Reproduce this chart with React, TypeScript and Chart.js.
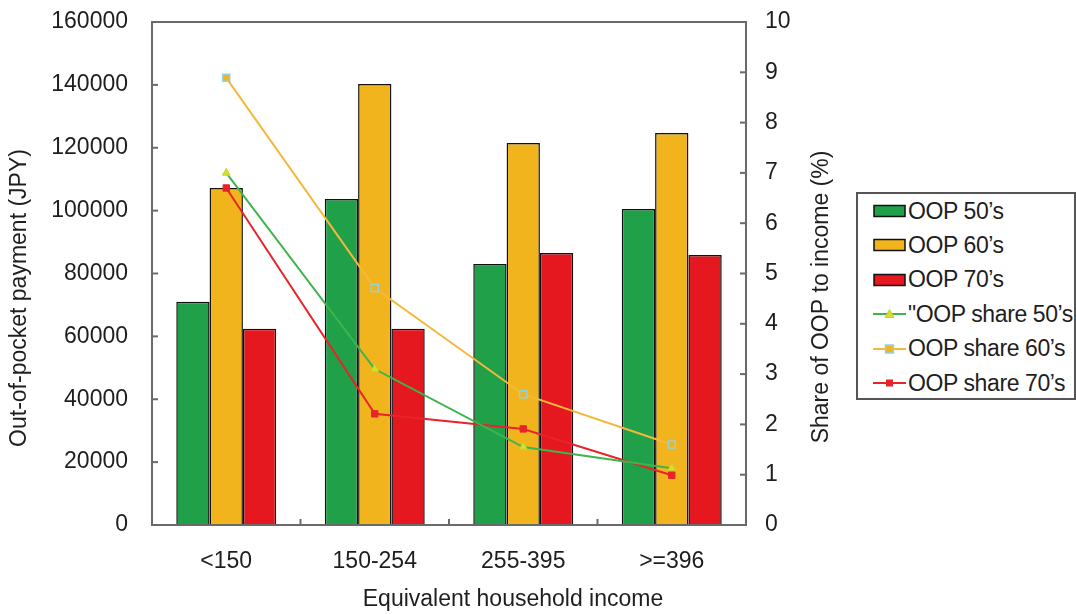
import React, { useEffect, useRef } from 'react';
import { Chart, registerables } from 'chart.js';

Chart.register(...registerables);

const categories = ['<150', '150-254', '255-395', '>=396'];
const oop50 = [71000, 103700, 83000, 100500];
const oop60 = [107200, 140300, 121500, 124700];
const oop70 = [62400, 62400, 86500, 85900];
const share50 = [7.0, 3.1, 1.55, 1.13];
const share60 = [8.89, 4.71, 2.6, 1.6];
const share70 = [6.7, 2.21, 1.91, 0.99];
const legendLabels = ['OOP 50’s', 'OOP 60’s', 'OOP 70’s', '"OOP share 50’s', 'OOP share 60’s', 'OOP share 70’s'];
const leftTitle = 'Out-of-pocket payment (JPY)';
const rightTitle = 'Share of OOP to income (%)';
const xTitle = 'Equivalent household income';

const FONT = '"Liberation Sans", Arial, Helvetica, sans-serif';
const TEXT = '#1e1e1e';
const GREEN = '#21A04A';
const YELLOW = '#F2B41C';
const RED = '#E5171F';
const LGREEN = '#3DB54A';
const LYELLOW = '#F5B83A';
const LRED = '#E8232A';

const framePlugin = {
  id: 'frame',
  afterDraw(chart: any) {
    const { ctx, chartArea: a, scales } = chart;
    ctx.save();
    ctx.strokeStyle = '#6a6a6a';
    ctx.lineWidth = 2;
    ctx.strokeRect(a.left, a.top, a.right - a.left, a.bottom - a.top);
    const line = (x1: number, y1: number, x2: number, y2: number) => {
      ctx.beginPath();
      ctx.moveTo(x1, y1);
      ctx.lineTo(x2, y2);
      ctx.stroke();
    };
    scales.y.ticks.forEach((t: any) => {
      const y = scales.y.getPixelForValue(t.value);
      line(a.left, y, a.left + 6, y);
    });
    scales.y1.ticks.forEach((t: any) => {
      const y = scales.y1.getPixelForValue(t.value);
      line(a.right - 6, y, a.right, y);
    });
    const n = categories.length;
    for (let i = 1; i < n; i++) {
      const x = a.left + (i * (a.right - a.left)) / n;
      line(x, a.bottom, x, a.bottom - 6);
    }
    ctx.fillStyle = TEXT;
    ctx.font = `23px ${FONT}`;
    ctx.textAlign = 'center';
    ctx.textBaseline = 'middle';
    ctx.save();
    ctx.translate(20, 298);
    ctx.rotate(-Math.PI / 2);
    ctx.fillText(leftTitle, 0, 0);
    ctx.restore();
    ctx.save();
    ctx.translate(822, 297);
    ctx.rotate(-Math.PI / 2);
    ctx.fillText(rightTitle, 0, 0);
    ctx.restore();
    ctx.fillText(xTitle, 513, 600);
    ctx.restore();
  },
};

function Swatch({ kind }: { kind: number }) {
  if (kind === 0 || kind === 1 || kind === 2) {
    const fill = [GREEN, YELLOW, RED][kind];
    return (
      <svg width={34} height={16} style={{ display: 'block' }}>
        <rect x={1} y={2.5} width={31} height={11} fill={fill} stroke="#111" strokeWidth={1.5} />
      </svg>
    );
  }
  const col = [LGREEN, LYELLOW, LRED][kind - 3];
  return (
    <svg width={34} height={16} style={{ display: 'block' }}>
      <line x1={0} y1={8} x2={33} y2={8} stroke={col} strokeWidth={2} />
      {kind === 3 && <polygon points="16.5,3.5 21,11.5 12,11.5" fill="#D6E02A" stroke="#C5D52A" strokeWidth={1} />}
      {kind === 4 && <rect x={12.5} y={4} width={8} height={8} fill={YELLOW} stroke="#8ED3E8" strokeWidth={1.5} />}
      {kind === 5 && <rect x={13} y={4.5} width={7} height={7} fill={LRED} />}
    </svg>
  );
}

export default function App() {
  const ref = useRef<HTMLCanvasElement | null>(null);

  useEffect(() => {
    document.body.style.margin = '0';
    if (!ref.current) return;
    const chart = new Chart(ref.current, {
      type: 'bar',
      data: {
        labels: categories,
        datasets: [
          { type: 'line', label: legendLabels[3], data: share50, yAxisID: 'y1', order: 0, borderColor: LGREEN, borderWidth: 2, pointStyle: 'triangle', pointRadius: 4.5, pointBackgroundColor: '#D6E02A', pointBorderColor: '#C5D52A', pointBorderWidth: 1 },
          { type: 'line', label: legendLabels[4], data: share60, yAxisID: 'y1', order: 0, borderColor: LYELLOW, borderWidth: 2, pointStyle: 'rect', pointRadius: 5, pointBackgroundColor: YELLOW, pointBorderColor: '#8ED3E8', pointBorderWidth: 1.5 },
          { type: 'line', label: legendLabels[5], data: share70, yAxisID: 'y1', order: 0, borderColor: LRED, borderWidth: 2, pointStyle: 'rect', pointRadius: 4.5, pointBackgroundColor: LRED, pointBorderColor: LRED, pointBorderWidth: 1 },
          { type: 'bar', label: legendLabels[0], data: oop50, yAxisID: 'y', order: 1, backgroundColor: GREEN, borderColor: '#111', borderWidth: 1.5 },
          { type: 'bar', label: legendLabels[1], data: oop60, yAxisID: 'y', order: 1, backgroundColor: YELLOW, borderColor: '#111', borderWidth: 1.5 },
          { type: 'bar', label: legendLabels[2], data: oop70, yAxisID: 'y', order: 1, backgroundColor: RED, borderColor: '#111', borderWidth: 1.5 },
        ] as any,
      },
      options: {
        responsive: false,
        animation: false,
        devicePixelRatio: 1,
        layout: { padding: { top: 22, right: 200, bottom: 0, left: 0 } },
        datasets: { bar: { categoryPercentage: 0.673, barPercentage: 1 } },
        plugins: { legend: { display: false }, tooltip: { enabled: false } },
        scales: {
          x: {
            offset: true,
            grid: { display: false, drawTicks: false },
            border: { display: false },
            ticks: { color: TEXT, font: { family: FONT, size: 23 }, padding: 23 },
            afterFit: (s: any) => { s.height = 89; },
          },
          y: {
            position: 'left',
            min: 0,
            max: 160000,
            grid: { display: false, drawTicks: false },
            border: { display: false },
            ticks: { stepSize: 20000, color: TEXT, font: { family: FONT, size: 23 }, padding: 24, callback: (v: any) => String(v) },
            afterFit: (s: any) => { s.width = 152; s.paddingTop = 0; s.paddingBottom = 0; },
          },
          y1: {
            position: 'right',
            min: 0,
            max: 10,
            grid: { display: false, drawTicks: false },
            border: { display: false },
            ticks: { stepSize: 1, color: TEXT, font: { family: FONT, size: 23 }, padding: 19 },
            afterFit: (s: any) => { s.width = 130; s.paddingTop = 0; s.paddingBottom = 0; },
          },
        },
      },
      plugins: [framePlugin],
    });
    return () => chart.destroy();
  }, []);

  return (
    <div style={{ position: 'relative', width: 1076, height: 614, background: '#fff', overflow: 'hidden' }}>
      <canvas ref={ref} width={1076} height={614} style={{ display: 'block' }} />
      <div
        style={{
          position: 'absolute',
          left: 856,
          top: 192,
          width: 216,
          height: 204,
          border: '2px solid #555',
          background: '#fff',
          fontFamily: FONT,
          fontSize: 23,
          color: TEXT,
        }}
      >
        {legendLabels.map((lab, i) => (
          <div
            key={lab}
            style={{ position: 'absolute', left: 15, top: 17 + i * 34.4 - 13, height: 26, display: 'flex', alignItems: 'center', whiteSpace: 'nowrap' }}
          >
            <Swatch kind={i} />
            <span style={{ marginLeft: 1, letterSpacing: -0.4 }}>{lab}</span>
          </div>
        ))}
      </div>
    </div>
  );
}
